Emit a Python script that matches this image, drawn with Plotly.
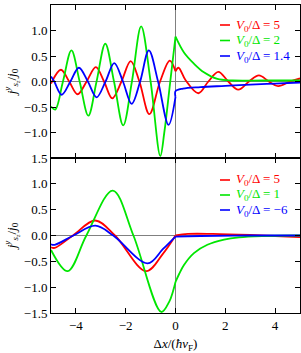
import plotly.graph_objects as go

# ---------------- data ----------------
# Top panel: V0/Delta = 5 (red), 2 (green), 1.4 (blue)
top_red_x = [-5.0, -4.6, -4.27, -3.93, -3.57, -3.2, -2.87, -2.54, -2.17, -1.8, -1.45, -1.05, -0.62, -0.23, 0.0,
             0.12, 0.4, 0.92, 1.32, 1.72, 2.12, 2.52, 2.95, 3.35, 3.75, 4.12, 4.6, 5.0]
top_red_y = [-0.04, 0.23, 0.0, -0.25, 0.0, 0.28, 0.0, -0.33, 0.0, 0.40, 0.0, -0.64, 0.0, 0.41, 0.20,
             0.27, 0.03, -0.23, 0.0, 0.19, 0.0, -0.16, 0.0, 0.12, 0.0, -0.09, 0.0, 0.06]

top_green_x = [-5.0, -4.83, -4.52, -4.18, -3.85, -3.5, -3.17, -2.82, -2.47, -2.1, -1.75, -1.38, -1.0, -0.61,
               -0.45, -0.22, 0.0, 0.34, 0.74, 1.14, 1.68, 2.3, 3.5, 5.0]
top_green_y = [-0.49, -0.55, 0.0, 0.61, 0.0, -0.67, 0.0, 0.74, 0.0, -0.86, 0.0, 1.08, 0.0, -1.46,
               -1.0, -0.04, 0.88, 0.57, 0.35, 0.18, 0.05, 0.02, 0.02, 0.02]

top_blue_x = [-5.0, -4.87, -4.57, -4.22, -3.88, -3.52, -3.17, -2.81, -2.46, -2.11, -1.76, -1.42, -1.07, -0.7,
              -0.28, 0.0, 0.0, 0.3, 1.0, 2.0, 3.0, 4.0, 5.0]
top_blue_y = [0.10, 0.0, -0.26, 0.0, 0.27, 0.0, -0.31, 0.0, 0.36, 0.0, -0.44, 0.0, 0.61, 0.0,
              -0.85, -0.30, -0.19, -0.14, -0.11, -0.085, -0.06, -0.04, -0.02]

# Bottom panel: V0/Delta = 5 (red), 1 (green), -6 (blue)
bot_red_x = [-5.0, -4.85, -4.12, -3.22, -2.43, -1.18, -0.5, 0.0, 0.5, 1.5, 3.0, 4.0, 5.0]
bot_red_y = [-0.23, -0.24, 0.0, 0.29, 0.0, -0.69, -0.35, 0.0, 0.03, 0.03, 0.01, -0.01, -0.03]

bot_green_x = [-5.0, -4.33, -3.58, -2.52, -1.69, -0.57, -0.25, -0.1, 0.0, 0.15, 0.34, 0.74, 1.28, 1.95, 2.55,
               3.5, 5.0]
bot_green_y = [-0.28, -0.69, 0.0, 0.87, 0.0, -1.48, -1.28, -1.08, -0.9, -0.74, -0.57, -0.34, -0.18, -0.08, -0.035,
               -0.01, 0.0]

bot_blue_x = [-5.0, -4.85, -4.1, -3.22, -2.5, -1.12, -0.5, 0.0, 1.0, 3.0, 5.0]
bot_blue_y = [-0.17, -0.18, 0.0, 0.19, 0.0, -0.54, -0.26, -0.02, -0.01, 0.0, 0.0]

top_labels = ["5", "2", "1.4"]
bot_labels = ["5", "1", "\u22126"]
colors = ["#ff0000", "#00e600", "#0000ff"]

x_ticks = [-4, -2, 0, 2, 4]
top_yticks = [-1.0, -0.5, 0.0, 0.5, 1.0, 1.5]
bot_yticks = [-1.5, -1.0, -0.5, 0.0, 0.5, 1.0, 1.5]

FONT = "Liberation Serif"
W, H = 301, 353
ML, MR, MT, MB = 51, 1, 5, 40

fig = go.Figure()


def split_at_zero(xs, ys):
    # left branch ends at the first x == 0, right branch starts at the last x == 0
    first0 = xs.index(0.0)
    last0 = len(xs) - 1 - xs[::-1].index(0.0)
    start = last0 - 1 if last0 != first0 else last0
    return (xs[:first0 + 1], ys[:first0 + 1]), (xs[start:], ys[start:])


def legend_name(color, label):
    return f'<span style="color:{color}"><i>V</i><sub>0</sub>/\u0394 = {label}</span>'


def add_series(xs, ys, color, label, xa, ya):
    (lx, ly), (rx, ry) = split_at_zero(xs, ys)
    name = legend_name(color, label)
    for bx, by in [(lx, ly), (rx, ry)]:
        fig.add_trace(go.Scatter(x=bx, y=by, mode="lines", line=dict(color=color, width=1.8, shape="spline"),
                                 name=name, xaxis=xa, yaxis=ya, showlegend=False))


top_series = [(top_red_x, top_red_y), (top_green_x, top_green_y), (top_blue_x, top_blue_y)]
bot_series = [(bot_red_x, bot_red_y), (bot_green_x, bot_green_y), (bot_blue_x, bot_blue_y)]
for (xs, ys), c, lab in zip(top_series, colors, top_labels):
    add_series(xs, ys, c, lab, "x", "y")
for (xs, ys), c, lab in zip(bot_series, colors, bot_labels):
    add_series(xs, ys, c, lab, "x2", "y2")

# ---- compact legends (short line sample + coloured label), drawn in paper space ----
pw, ph = W - ML - MR, H - MT - MB


def px2paper(px, py):
    return (px - ML) / pw, (H - MB - py) / ph


shapes, annotations = [], []
for row_y, labels in [([25, 40.5, 56], top_labels), ([180, 195, 210], bot_labels)]:
    for py, c, lab in zip(row_y, colors, labels):
        x0, y0 = px2paper(220, py)
        x1, _ = px2paper(230, py)
        xt, _ = px2paper(234, py)
        shapes.append(dict(type="line", xref="paper", yref="paper", x0=x0, x1=x1, y0=y0, y1=y0,
                           line=dict(color=c, width=1.6)))
        annotations.append(dict(xref="paper", yref="paper", x=xt, y=y0, xanchor="left", yanchor="middle",
                                text=legend_name(c, lab), showarrow=False,
                                font=dict(family=FONT, size=13, color=c)))

axis_common = dict(showline=True, linecolor="black", linewidth=1, mirror="ticks", ticks="inside",
                   ticklen=5, tickcolor="black", showgrid=False, zeroline=True,
                   zerolinecolor="#808080", zerolinewidth=1, automargin=False,
                   tickfont=dict(family=FONT, size=13, color="black"))

ytitle = '<i>j</i><sup><i>y</i></sup><sub><i>s<sub>z</sub></i></sub>/<i>j</i><sub>0</sub>'
split = 155 / 308

fig.update_layout(
    width=W, height=H,
    margin=dict(l=ML, r=MR, t=MT, b=MB),
    paper_bgcolor="white", plot_bgcolor="white",
    font=dict(family=FONT, size=13, color="black"),
    xaxis=dict(axis_common, range=[-5, 5], tickvals=x_ticks, showticklabels=False, anchor="y",
               domain=[0, 1]),
    yaxis=dict(axis_common, range=[-1.5, 1.5], tickvals=top_yticks, tickformat=".1f",
               domain=[split, 1], anchor="x",
               title=dict(text=ytitle, font=dict(family=FONT, size=13), standoff=4)),
    xaxis2=dict(axis_common, range=[-5, 5], tickvals=x_ticks, anchor="y2", domain=[0, 1],
                title=dict(text='\u0394<i>x</i>/(<i>\u0127v</i><sub>F</sub>)', font=dict(family=FONT, size=13),
                           standoff=8)),
    yaxis2=dict(axis_common, range=[-1.5, 1.5], tickvals=bot_yticks, tickformat=".1f",
                domain=[0, split], anchor="x2",
                title=dict(text=ytitle, font=dict(family=FONT, size=13), standoff=4)),
    shapes=shapes,
    annotations=annotations,
    showlegend=False,
)

fig.write_html("out.html", config={"displayModeBar": False},
               post_script="document.body.style.margin='0';document.body.style.overflow='hidden';")
